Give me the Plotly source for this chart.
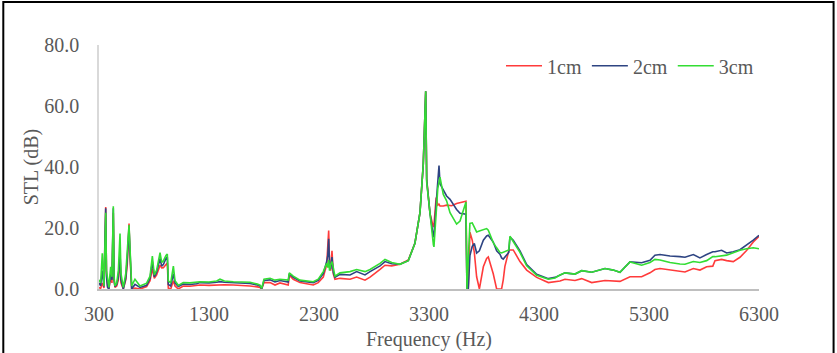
import plotly.graph_objects as go

# Frequency (Hz)
freq = [
    300, 315, 330, 345, 354, 361, 368, 378, 390, 406,
    418, 430, 437, 445, 461, 476, 491, 500, 521, 543,
    557, 573, 580, 588, 597, 627, 673, 733, 764, 785,
    803, 824, 855, 870, 885, 909, 921, 930, 952, 976,
    991, 1021, 1066, 1127, 1188, 1218, 1300, 1370, 1400, 1440,
    1521, 1600, 1673, 1740, 1764, 1779, 1800, 1855, 1900, 1945,
    2000, 2020, 2030, 2066, 2127, 2200, 2248, 2293, 2339, 2370,
    2380, 2388, 2396, 2406, 2418, 2430, 2445, 2491, 2582, 2642,
    2718, 2764, 2855, 2900, 2961, 3036, 3112, 3172, 3218, 3248,
    3270, 3279, 3309, 3340, 3345, 3365, 3380, 3391, 3400, 3430,
    3460, 3491, 3506, 3551, 3582, 3612, 3636, 3645, 3657, 3672,
    3693, 3712, 3733, 3758, 3779, 3794, 3824, 3839, 3884, 3915,
    3945, 3960, 3975, 3990, 4025, 4036, 4066, 4127, 4188, 4279,
    4385, 4445, 4491, 4536, 4627, 4688, 4779, 4900, 4975, 5036,
    5127, 5233, 5309, 5354, 5400, 5491, 5581, 5627, 5703, 5763,
    5824, 5880, 5900, 5960, 6006, 6066, 6127, 6187, 6248, 6300,
]

# STL (dB), 1cm
stl_1cm = [
    0.5, 0.2, 2, 0.3, 15, 26.9, 5, 1, 0, 4,
    2, 25, 3, 0.5, 1, 3, 10, 2, 0, 3,
    8, 21.5, 12, 5, 0, 0.3, 0, 0.8, 2.7, 6.7,
    3.5, 4.6, 7.8, 6.9, 7, 8, 8.5, 0.3, 0, 2.7,
    1, 0, 1, 0.9, 1.1, 1.3, 1.2, 1.3, 1.5, 1.4,
    1.3, 1.2, 1.0, 0.7, 0.5, 0, 2.1, 2.1, 1.3, 2.0,
    1.3, 1.3, 4.5, 3.2, 2.1, 1.6, 1.3, 2.1, 3.9, 8,
    13, 19.2, 8, 6, 12.5, 5, 3.2, 3.5, 3.2, 3.9,
    2.9, 3.9, 6.4, 7.8, 7.6, 8.1, 9.5, 15, 25, 41,
    64.8, 36, 24.8, 20.3, 21, 30, 27.5, 27.8, 27.2, 27.2,
    27.5, 27.3, 27.3, 28, 28.3, 28.6, 28.8, 0, 0, 18.6,
    16, 12, 4, 0, 4, 7.3, 10, 10.5, 5, 0,
    0, 0, 3, 7.4, 12.5, 12.8, 12.8, 9, 6.2, 3.8,
    2.1, 2.4, 2.6, 3.2, 2.8, 3.4, 2.1, 2.8, 2.7, 2.5,
    4, 4, 5.3, 6.4, 6.7, 6.2, 5.7, 5.6, 6.7, 6.2,
    7.3, 7.5, 9.3, 9.7, 9.3, 9, 10.4, 12.6, 15.4, 17.3,
]

# STL (dB), 2cm
stl_2cm = [
    2, 1, 6, 0.8, 16, 26.5, 4, 0.5, 0, 5,
    3, 26.5, 3, 0.8, 1.5, 4, 12, 3, 0, 3.5,
    10, 20, 14, 6, 0, 1.5, 0.5, 1.2, 3.5, 9,
    4, 5.5, 10, 7.5, 8, 10, 10.5, 1.5, 1, 5,
    2, 0.8, 1.6, 1.5, 1.7, 2.1, 2.0, 2.2, 2.4, 2.2,
    2.0, 1.9, 1.8, 1.3, 1.0, 0, 2.8, 3.0, 2.3, 2.8,
    2.3, 2.3, 5.0, 3.8, 2.6, 2.3, 2.1, 2.8, 5.0, 9,
    11, 16.5, 8, 6.5, 10.5, 5.5, 3.8, 4.8, 4.6, 5.7,
    4.6, 5.7, 7.6, 9.0, 8.3, 8.1, 9.3, 15, 25, 41,
    64.8, 35.6, 24.8, 17, 17.5, 28, 35, 40.5, 34.5, 32.6,
    30.5, 29.4, 28.5, 26.1, 24.8, 24.5, 24.5, 0, 0, 11,
    14, 14.9, 11.8, 12.5, 14.9, 16, 17.4, 17.6, 15.4, 12.5,
    11.4, 10.2, 9.8, 10.5, 12, 17, 16, 12.5, 8.0, 4.8,
    3.4, 3.8, 4.7, 5.3, 4.9, 6, 5.5, 6.7, 6.2, 5.5,
    8.9, 8.6, 9.4, 11.1, 11.3, 10.8, 10.6, 10.4, 11.3, 10.2,
    11.3, 12.2, 12.2, 12.7, 11.8, 12.2, 12.9, 14.4, 16, 17.6,
]

# STL (dB), 3cm
stl_3cm = [
    3, 2, 11.7, 1, 14, 25, 6, 2.7, 0.5, 7.3,
    4, 27.1, 4, 1, 2, 6, 18.2, 5, 0.5, 5,
    13, 21, 15, 7, 1, 3.2, 1, 1.9, 4.2, 10.8,
    4.6, 6.2, 11.9, 8.7, 9.2, 11, 11.5, 2.7, 2, 7.5,
    2.7, 1.2, 2.1, 2, 2.2, 2.4, 2.3, 2.6, 3.2, 2.6,
    2.4, 2.3, 2.2, 1.6, 1.3, 0.2, 3.2, 3.5, 2.9, 3.2,
    2.9, 2.9, 5.3, 4.2, 2.9, 2.6, 2.4, 3.2, 5.7, 8.4,
    7, 9.5, 6, 8, 9, 7, 4.2, 5.3, 5.7, 6.4,
    5.7, 6.4, 8.4, 9.7, 8.7, 8.1, 9.3, 15, 25, 41,
    64.8, 35, 24, 14.5, 13.8, 25, 33, 35, 36.7, 31,
    28.9, 25, 24, 21.3, 22.3, 25.6, 28.5, 0, 10, 21.5,
    21.7, 20, 18.7, 19, 19.3, 19.6, 19.8, 19.3, 15.2, 13.5,
    12, 11.8, 12, 12.4, 12.8, 17.3, 15.5, 12, 7.6, 4.5,
    3.2, 3.6, 4.6, 5.3, 4.9, 6, 5.5, 6.7, 6.2, 5.5,
    8.9, 7.8, 8.7, 9.7, 9.5, 8.7, 8.2, 8.1, 9, 8.7,
    9.3, 10.6, 10.6, 10.8, 11.1, 11.9, 12.7, 13.2, 13.5, 13.2,
]

series_names = ["1cm", "2cm", "3cm"]
series_colors = ["#FF3B3B", "#2E4482", "#33DD33"]
x_ticks = [300, 1300, 2300, 3300, 4300, 5300, 6300]
y_ticks = [0, 20, 40, 60, 80]

assert len(freq) == len(stl_1cm) == len(stl_2cm) == len(stl_3cm)

FONT = "Liberation Serif, Times New Roman, serif"
GREY = "#595959"

fig = go.Figure()
for name, vals, col in zip(series_names, [stl_1cm, stl_2cm, stl_3cm], series_colors):
    fig.add_trace(go.Scatter(x=freq, y=vals, mode="lines", name=name,
                             line=dict(color=col, width=1.6)))

fig.update_layout(
    width=837, height=353,
    margin=dict(l=99, r=78, t=45, b=64, autoexpand=False),
    paper_bgcolor="white", plot_bgcolor="white",
    font=dict(family=FONT, size=20, color=GREY),
    showlegend=True,
    legend=dict(orientation="h", x=1.0, xanchor="right", y=0.915, yanchor="middle",
                font=dict(family=FONT, size=20, color=GREY),
                bgcolor="rgba(0,0,0,0)", itemwidth=36, tracegroupgap=0),
    xaxis=dict(range=[300, 6300], tickvals=x_ticks, ticktext=[str(t) for t in x_ticks],
               showgrid=False, zeroline=False, showline=True, linecolor="#BFBFBF",
               linewidth=2, ticks="", ticklabelstandoff=6, automargin=False,
               tickfont=dict(family=FONT, size=20, color=GREY),
               title=dict(text="Frequency (Hz)", standoff=8,
                          font=dict(family=FONT, size=20, color=GREY))),
    yaxis=dict(range=[0, 80], tickvals=y_ticks, tickformat=".1f",
               showgrid=False, zeroline=False, showline=True, linecolor="#D9D9D9",
               linewidth=1.5, ticks="", ticklabelstandoff=14, automargin=False,
               tickfont=dict(family=FONT, size=20, color=GREY),
               title=dict(text="STL (dB)", standoff=0,
                          font=dict(family=FONT, size=20, color=GREY))),
    shapes=[dict(type="rect", xref="paper", yref="paper",
                 x0=-0.145, x1=1.113, y0=-0.30, y1=1.176,
                 line=dict(color="black", width=2), fillcolor="rgba(0,0,0,0)",
                 layer="above")],
)

fig.write_html("out.html", config={"displayModeBar": False},
               post_script="document.body.style.margin='0';document.body.style.overflow='hidden';")
